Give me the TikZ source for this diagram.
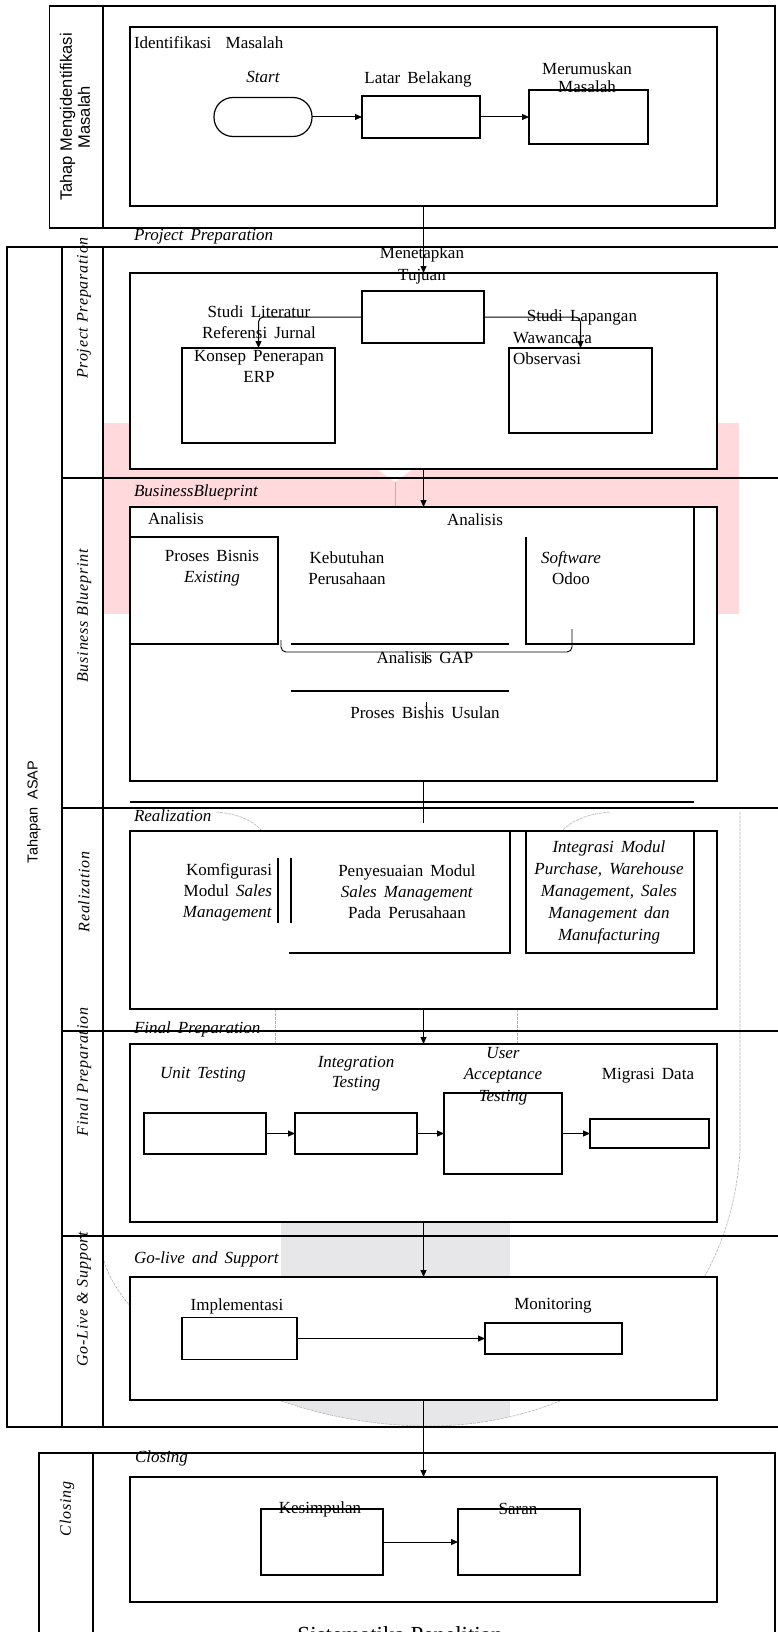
\documentclass[tikz,border=0pt]{standalone}
\usepackage{fontspec}
\setmainfont{Liberation Serif}
\newfontfamily\sansstep{Liberation Sans}
\newfontfamily\spacedserif[LetterSpace=5]{Liberation Serif}
\usetikzlibrary{arrows.meta}
\definecolor{wmpink}{HTML}{FFD9DC}
\definecolor{wmgray}{HTML}{E7E7E9}
\definecolor{wmline}{HTML}{B4B4B4}
\newcommand\wordfont[1][21]{\fontsize{17}{#1}\selectfont\spaceskip=0.42em\relax}

\begin{document}
\begin{tikzpicture}[x=1pt,y=-1pt,line width=1.2pt,
    every node/.style={inner sep=0pt,outer sep=0pt,font=\wordfont},
    box/.style={draw,fill=white},
    flow/.style={line width=1pt,-{Triangle[length=7pt,width=6pt]}},
    wm/.style={draw=wmline,line width=0.6pt,dash pattern=on 3pt off 1pt},
    lanetext/.style={rotate=90,font=\spacedserif\itshape\fontsize{16}{19}\selectfont}]
    \useasboundingbox[fill=white] (0,0) rectangle (777,1632);
    \begin{scope}
    \fill[wmpink] (103,423) rectangle (739,614);
    \fill[white] (377,469) -- (413,469) -- (395,482) -- cycle;
    \draw[wmline,line width=0.6pt] (395,482) -- (395,507);
    \clip (740,812) -- (740,1150) .. controls (730,1330) and (580,1428) .. (424,1426) .. controls (260,1424) and (120,1330) .. (103,1257) -- (103,812) -- cycle;
    \fill[wmgray] (281,1222) rectangle (510,1430);
    \end{scope}
    \draw[wm] (216,812) .. controls (240,814) and (255,822) .. (262,831);
    \draw[wm] (610,812) .. controls (585,814) and (570,822) .. (562,831);
    \draw[wm] (275,1009) -- (275,1044);
    \draw[wm] (517,1009) -- (517,1044);
    \draw[wm] (740,812) -- (740,1150) .. controls (730,1330) and (580,1428) .. (424,1426) .. controls (260,1424) and (120,1330) .. (103,1257);

    \draw (49.5,6) rectangle (775,228);
    \draw (103,6) -- (103,228);
    \draw (7,247) rectangle (790,1427);
    \draw (62,247) -- (62,1427);
    \draw (103,247) -- (103,1427);
    \foreach \y in {478,808,1031,1236} \draw (62,\y) -- (790,\y);
    \draw (39,1453) rectangle (775,1650);
    \draw (93,1453) -- (93,1650);

    \node[rotate=90,align=center,font=\sansstep\fontsize{16.5}{18}\selectfont] (tahaplbl) at (75,117) {Tahap Mengidentifikasi\\Masalah};
    \node[rotate=90,font=\sansstep\fontsize{14.5}{18}\selectfont] (asaplbl) at (34,812) {Tahapan\ \ ASAP};
    \node[lanetext] (pplane) at (84,308) {Project Preparation};
    \node[lanetext] (bblane) at (84,616) {Business Blueprint};
    \node[lanetext] (reallane) at (84,892) {Realization};
    \node[lanetext] (fplane) at (84,1072) {Final Preparation};
    \node[lanetext] (gllane) at (84,1299) {Go-Live \& Support};
    \node[lanetext] (cllane) at (67,1509) {Closing};

    \node[box,minimum width=587,minimum height=179] (idbox) at (423.5,116.5) {};
    \node[anchor=west] (idlbl) at (134,43) {Identifikasi\ \ Masalah};
    \node[box,rounded corners=19pt,minimum width=98,minimum height=39] (start) at (263,117) {};
    \node[font=\wordfont\itshape] (startlbl) at (263,77) {Start};
    \node[box,minimum width=118,minimum height=42] (latar) at (421,117) {};
    \node (latarlbl) at (418,79) {Latar Belakang};
    \node[box,minimum width=119,minimum height=54] (merumus) at (588.5,117) {};
    \node[align=center,font={\wordfont[18]}] (merumuslbl) at (587,78) {Merumuskan\\Masalah};
    \draw[flow] (start) -- (latar);
    \draw[flow] (latar) -- (merumus);

    \node[anchor=west,font=\wordfont\itshape] (pplbl) at (134,237) {Project Preparation};
    \node[box,minimum width=587,minimum height=196] (ppbox) at (423.5,371) {};
    \draw[flow] (idbox) -- (ppbox);
    \node[align=center,font={\wordfont[22]}] (tujuanlbl) at (422,265) {Menetapkan\\Tujuan};
    \node[box,minimum width=122,minimum height=52] (tujuan) at (423,317) {};
    \node[box,minimum width=153,minimum height=95] (konsep) at (258.5,395.5) {};
    \node[box,minimum width=143,minimum height=85] (observasi) at (580.5,390.5) {};
    \node[align=center] (literlbl) at (259,322) {Studi Literatur\\Referensi Jurnal};
    \node[align=center] (konseplbl) at (259,366) {Konsep Penerapan\\ERP};
    \node (lapanganlbl) at (582,317) {Studi Lapangan};
    \node[anchor=west] (wawanlbl) at (513,338) {Wawancara};
    \node[anchor=west] (observlbl) at (513,359) {Observasi};
    \draw[flow,rounded corners=5pt] (tujuan) -| (konsep);
    \draw[flow,rounded corners=5pt] (tujuan) -| (observasi);

    \node[anchor=west,font=\wordfont\itshape] (bblbl) at (134,492) {BusinessBlueprint};
    \node[box,minimum width=587,minimum height=274] (bbbox) at (423.5,644) {};
    \draw[flow] (ppbox) -- (bbbox);
    \draw (694,507) -- (694,644) -| (526,537);
    \node[box,minimum width=148,minimum height=107] (existing) at (204,590.5) {};
    \draw (291,644) -- (509,644);
    \node[anchor=west] (anal1lbl) at (148,519) {Analisis};
    \node (anal2lbl) at (475,520) {Analisis};
    \node[align=center] (existlbl) at (212,568) {Proses Bisnis\\\textit{Existing}};
    \node[align=center] (butuhlbl) at (347,568) {Kebutuhan\\Perusahaan};
    \node[align=center] (odoolbl) at (571,568) {\textit{Software}\\Odoo};
    \draw[line width=0.9pt,rounded corners=5pt] (281,640) |- (572,652) -- (572,629);
    \draw[line width=0.9pt] (425,652) -- (425,664);
    \node (gaplbl) at (425,658) {Analisis GAP};
    \draw (291,691) -- (509,691);
    \draw[line width=0.9pt] (426,702) -- (426,719);
    \node (usulanlbl) at (425,713) {Proses Bishis Usulan};
    \draw (130,802) -- (694,802);
    \coordinate (bbend) at (423.5,823);
    \draw[line width=1pt] (bbbox) -- (bbend);

    \node[anchor=west,font=\wordfont\itshape] (reallbl) at (134,816) {Realization};
    \node[box,minimum width=587,minimum height=178] (realbox) at (423.5,920) {};
    \draw (526,831) rectangle (694,953);
    \draw (510,831) |- (289,953);
    \draw (278,858) -- (278,923);
    \draw (291,858) -- (291,923);
    \node[align=right,anchor=east] (konfiglbl) at (272,892) {Komfigurasi\\Modul \textit{Sales}\\\textit{Management}};
    \node[align=center] (sesuailbl) at (407,892) {Penyesuaian Modul\\\textit{Sales Management}\\Pada Perusahaan};
    \node[align=center,font={\wordfont[22]\itshape}] (integrasilbl) at (609,892) {Integrasi Modul\\Purchase, Warehouse\\Management, Sales\\Management dan\\Manufacturing};

    \node[anchor=west,font=\wordfont\itshape] (fplbl) at (134,1029) {Final Preparation};
    \node[box,minimum width=587,minimum height=178] (fpbox) at (423.5,1133) {};
    \draw[flow] (realbox) -- (fpbox);
    \node[box,minimum width=122,minimum height=41] (unit) at (205,1133.5) {};
    \node[box,minimum width=122,minimum height=41] (integ) at (356,1133.5) {};
    \node[box,minimum width=118,minimum height=81] (uat) at (503,1133.5) {};
    \node[box,minimum width=119,minimum height=29] (migrasi) at (649.5,1133.5) {};
    \node[font=\wordfont\itshape] (unitlbl) at (203,1075) {Unit Testing};
    \node[align=center,font={\wordfont[20]\itshape}] (integlbl) at (356,1074) {Integration\\Testing};
    \node[align=center,font={\wordfont[21.5]\itshape}] (uatlbl) at (503,1076) {User\\Acceptance\\Testing};
    \node (migrasilbl) at (648,1076) {Migrasi Data};
    \draw[flow] (unit) -- (integ);
    \draw[flow] (integ) -- (uat);
    \draw[flow] (uat) -- (migrasi);

    \node[anchor=west,font=\wordfont\itshape] (gllbl) at (134,1259) {Go-live and Support};
    \node[box,minimum width=587,minimum height=123] (glbox) at (423.5,1338.5) {};
    \draw[flow] (fpbox) -- (glbox);
    \node[box,minimum width=115,minimum height=42] (impl) at (239.5,1338.5) {};
    \node[box,minimum width=137,minimum height=31] (monitor) at (553.5,1338.5) {};
    \node (impllbl) at (237,1306) {Implementasi};
    \node (monitorlbl) at (553,1306) {Monitoring};
    \draw[flow] (impl) -- (monitor);

    \node[anchor=west,font=\wordfont\itshape] (cllbl) at (135,1458) {Closing};
    \node[box,minimum width=587,minimum height=125] (clbox) at (423.5,1539.5) {};
    \draw[flow] (glbox) -- (clbox);
    \node[box,minimum width=122,minimum height=66] (simpul) at (322,1542) {};
    \node[box,minimum width=122,minimum height=66] (saran) at (519,1542) {};
    \node (simpullbl) at (320,1509) {Kesimpulan};
    \node (saranlbl) at (518,1509) {Saran};
    \draw[flow] (simpul) -- (saran);
    \node[anchor=base,font=\fontsize{23}{27}\selectfont] (caption) at (400,1642) {Sistematika Penelitian};
\end{tikzpicture}
\end{document}
